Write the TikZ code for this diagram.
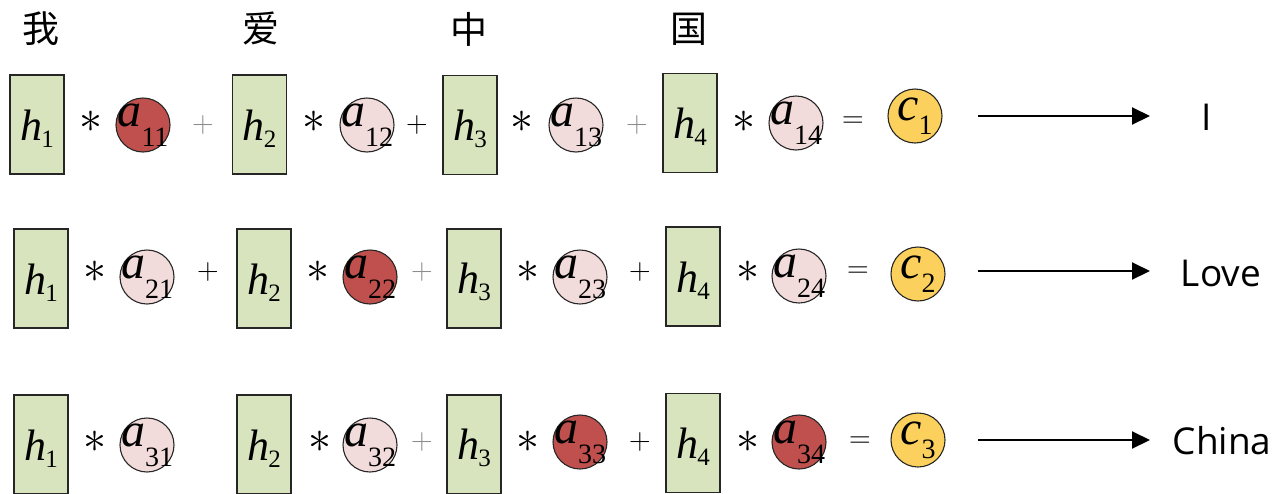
\RequirePackage{fix-cm}
\documentclass[tikz,border=0pt]{standalone}
\usepackage{fontspec}
\setmainfont{Liberation Serif}
\newfontfamily\cjk{Noto Sans CJK SC}
\newfontfamily\wordfont{Open Sans}
\usetikzlibrary{arrows.meta}

\definecolor{hgreen}{RGB}{215,228,189}
\definecolor{wred}{RGB}{192,80,77}
\definecolor{wpink}{RGB}{242,220,219}
\definecolor{cyellow}{RGB}{252,208,92}

% labels: hidden state h_i, weight a_ij, context c_i
\newcommand{\hlab}[1]{\rule{0pt}{38pt}{\fontsize{44}{44}\selectfont\textit{h}}\kern-1pt\raisebox{-7pt}{\fontsize{25}{25}\selectfont #1}}
\newcommand{\wlab}[2]{\makebox[0pt]{{\fontsize{48}{48}\selectfont\textit{a}}\raisebox{-20pt}{\fontsize{28}{28}\selectfont #2}}}
\newcommand{\clab}[1]{\makebox[0pt]{{\fontsize{48}{48}\selectfont\textit{c}}\raisebox{-14pt}{\fontsize{28}{28}\selectfont #1}}}

\begin{document}
\begin{tikzpicture}[x=1pt,y=-1pt,
  hbox/.style={draw=black!85, line width=1.3pt, fill=hgreen, minimum width=54pt,
    minimum height=99pt, inner sep=0pt},
  wt/.style={circle, draw=black!85, line width=1.1pt, minimum size=54pt, inner sep=0pt},
  op/.style={inner sep=0pt, font=\fontsize{30}{30}\selectfont},
  star/.style={inner sep=0pt, font=\fontsize{46}{46}\selectfont},
  zi/.style={inner sep=0pt, font=\cjk\fontsize{37}{37}\selectfont},
  word/.style={inner sep=0pt, font=\wordfont\fontsize{37}{37}\selectfont},
  arr/.style={line width=2pt, -{Triangle[length=18pt,width=17pt]}}]

  \useasboundingbox (0,0) rectangle (1280,493);

  \foreach \x/\ch [count=\i] in {41/我, 261/爱, 469/中, 689/国}
  {
    \node[zi] (zi\i) at (\x,29) {\ch};
  }

  % row 1
  \node[hbox] (h11) at (37,124.5) {\hlab{1}};
  \node[star] (m11) at (91,122) {$\ast$};
  \node[wt, fill=wred] (a11) at (143,125) {\wlab{a}{11}};
  \node[op, text=black!45] (p11) at (203,125) {$+$};
  \node[hbox] (h12) at (259.5,124.5) {\hlab{2}};
  \node[star] (m12) at (314,122) {$\ast$};
  \node[wt, fill=wpink] (a12) at (367,125) {\wlab{a}{12}};
  \node[op] (p12) at (417,125) {$+$};
  \node[hbox] (h13) at (470,125) {\hlab{3}};
  \node[star] (m13) at (522,122) {$\ast$};
  \node[wt, fill=wpink] (a13) at (576,125) {\wlab{a}{13}};
  \node[op, text=black!45] (p13) at (637,125) {$+$};
  \node[hbox] (h14) at (690,123) {\hlab{4}};
  \node[star] (m14) at (744,122) {$\ast$};
  \node[wt, fill=wpink] (a14) at (796,123) {\wlab{a}{14}};
  \node[op] (e1) at (853,122) {$=$};
  \node[wt, fill=cyellow] (c1) at (915,116) {\clab{1}};
  \coordinate (f1) at (978,116);
  \coordinate (t1) at (1150,116);
  \draw[arr] (f1) -- (t1);
  \node[word] (w1) at (1207,117) {I};

  % row 2
  \node[hbox] (h21) at (41,278.5) {\hlab{1}};
  \node[star] (m21) at (95,272) {$\ast$};
  \node[wt, fill=wpink] (a21) at (147,277) {\wlab{a}{21}};
  \node[op] (p21) at (208,272) {$+$};
  \node[hbox] (h22) at (264,278.5) {\hlab{2}};
  \node[star] (m22) at (318,272) {$\ast$};
  \node[wt, fill=wred] (a22) at (370,277) {\wlab{a}{22}};
  \node[op, text=black!45] (p22) at (422,272) {$+$};
  \node[hbox] (h23) at (474,278.5) {\hlab{3}};
  \node[star] (m23) at (528,272) {$\ast$};
  \node[wt, fill=wpink] (a23) at (580,277) {\wlab{a}{23}};
  \node[op] (p23) at (640,272) {$+$};
  \node[hbox] (h24) at (693,276.5) {\hlab{4}};
  \node[star] (m24) at (748,272) {$\ast$};
  \node[wt, fill=wpink] (a24) at (799,276) {\wlab{a}{24}};
  \node[op] (e2) at (858,272) {$=$};
  \node[wt, fill=cyellow] (c2) at (918,274) {\clab{2}};
  \coordinate (f2) at (978,271);
  \coordinate (t2) at (1150,271);
  \draw[arr] (f2) -- (t2);
  \node[word] (w2) at (1221,273) {Love};

  % row 3
  \node[hbox] (h31) at (41,444.5) {\hlab{1}};
  \node[star] (m31) at (95,442) {$\ast$};
  \node[wt, fill=wpink] (a31) at (147,445) {\wlab{a}{31}};
  \node[hbox] (h32) at (264,444.5) {\hlab{2}};
  \node[star] (m32) at (320,442) {$\ast$};
  \node[wt, fill=wpink] (a32) at (370,445) {\wlab{a}{32}};
  \node[op, text=black!45] (p32) at (422,442) {$+$};
  \node[hbox] (h33) at (474,444.5) {\hlab{3}};
  \node[star] (m33) at (528,442) {$\ast$};
  \node[wt, fill=wred] (a33) at (580,442) {\wlab{a}{33}};
  \node[op] (p33) at (640,442) {$+$};
  \node[hbox] (h34) at (693,443) {\hlab{4}};
  \node[star] (m34) at (748,442) {$\ast$};
  \node[wt, fill=wred] (a34) at (799,442) {\wlab{a}{34}};
  \node[op] (e3) at (860,442) {$=$};
  \node[wt, fill=cyellow] (c3) at (918,440) {\clab{3}};
  \coordinate (f3) at (978,440);
  \coordinate (t3) at (1150,440);
  \draw[arr] (f3) -- (t3);
  \node[word] (w3) at (1222,441) {China};

\end{tikzpicture}
\end{document}
